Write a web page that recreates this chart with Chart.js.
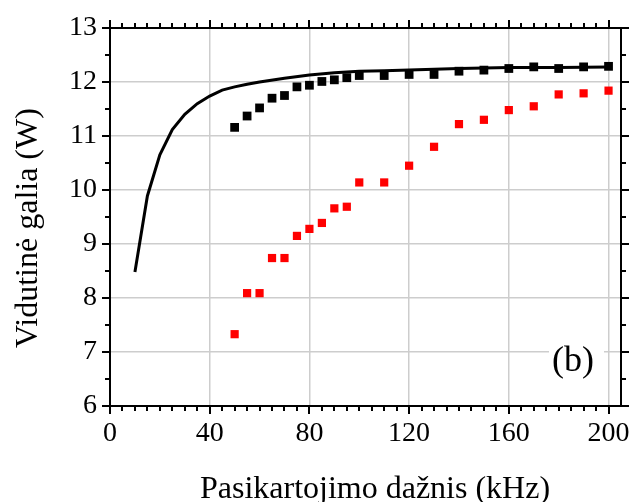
<!DOCTYPE html>
<html>
<head>
<meta charset="utf-8">
<script src="https://cdn.jsdelivr.net/npm/chart.js@4"></script>
<style>
    html, body { margin: 0; padding: 0; background: #fff; }
</style>
</head>
<body>
<canvas id="myChart" width="631" height="502"></canvas>
<script>
// model curve (kHz -> W)
const curveFreq = [10, 15, 20, 25, 30, 35, 40, 45, 50, 55, 60, 70, 80, 90, 100, 110, 120, 140, 160, 180, 200]
const curvePower = [8.48, 9.89, 10.65, 11.12, 11.40, 11.60, 11.74, 11.85, 11.91, 11.96, 12.00, 12.07, 12.13, 12.17, 12.20, 12.21, 12.22, 12.25, 12.27, 12.27, 12.28]

// measured points
const freq = [50, 55, 60, 65, 70, 75, 80, 85, 90, 95, 100, 110, 120, 130, 140, 150, 160, 170, 180, 190, 200]
const blackPower = [11.16, 11.37, 11.52, 11.70, 11.75, 11.91, 11.94, 12.01, 12.04, 12.08, 12.12, 12.12, 12.14, 12.14, 12.20, 12.22, 12.25, 12.28, 12.25, 12.28, 12.29]
const redPower = [7.33, 8.09, 8.09, 8.74, 8.74, 9.15, 9.28, 9.39, 9.66, 9.69, 10.14, 10.14, 10.45, 10.80, 11.22, 11.30, 11.48, 11.55, 11.77, 11.79, 11.84]

const xTitle = 'Pasikartojimo dažnis (kHz)'
const yTitle = 'Vidutinė galia (W)'
const tag = '(b)'

const xMin = 0, xMax = 205
const yMin = 6, yMax = 13
const serif = 'Liberation Serif'

function toXY(xs, ys) {
    return xs.map((x, i) => ({ x: x, y: ys[i] }))
}

function noPad(s) {
    s.paddingLeft = 0; s.paddingRight = 0
    s.paddingTop = 0; s.paddingBottom = 0
}

// tick marks on all four sides, axis titles and the "(b)" tag
const frameTicks = {
    id: 'frameTicks',
    afterDraw (chart) {
        const ctx = chart.ctx
        const a = chart.chartArea
        const xs = chart.scales.x
        const ys = chart.scales.y
        ctx.save()
        ctx.strokeStyle = '#000'
        ctx.lineWidth = 2
        ctx.beginPath()
        for (let v = xMin; v <= 200; v += 5) {
            const px = Math.round(xs.getPixelForValue(v))
            const len = v % 40 === 0 ? 8 : 5
            ctx.moveTo(px, a.bottom); ctx.lineTo(px, a.bottom + len)
            ctx.moveTo(px, a.top); ctx.lineTo(px, a.top - len)
        }
        for (let v = yMin; v <= yMax; v += 0.5) {
            const py = Math.round(ys.getPixelForValue(v))
            const len = v % 1 === 0 ? 8 : 5
            ctx.moveTo(a.left, py); ctx.lineTo(a.left - len, py)
            ctx.moveTo(a.right, py); ctx.lineTo(a.right + len, py)
        }
        ctx.stroke()

        ctx.fillStyle = '#000'
        ctx.textAlign = 'center'
        ctx.textBaseline = 'alphabetic'
        ctx.font = '32px "' + serif + '"'
        ctx.fillText(xTitle, 375, 498)

        ctx.save()
        ctx.translate(37, 228)
        ctx.rotate(-Math.PI / 2)
        ctx.fillText(yTitle, 0, 0)
        ctx.restore()

        ctx.fillStyle = '#fff'
        ctx.fillRect(549, 341, 55, 44)
        ctx.fillStyle = '#000'
        ctx.font = '36px "' + serif + '"'
        ctx.textBaseline = 'middle'
        ctx.fillText(tag, 573, 362)
        ctx.restore()
    }
}

const ctx = document.getElementById('myChart')
const myChart = new Chart(ctx, {
    type: 'scatter',
    data: {
        datasets: [
            {
                label: 'model',
                type: 'line',
                data: toXY(curveFreq, curvePower),
                borderColor: '#000',
                borderWidth: 3,
                pointRadius: 0,
                fill: false,
                tension: 0,
                order: 3
            },
            {
                label: 'black',
                data: toXY(freq, blackPower),
                pointStyle: 'rect',
                pointRadius: 6.2,
                borderWidth: 0,
                backgroundColor: '#000',
                order: 1
            },
            {
                label: 'red',
                data: toXY(freq, redPower),
                pointStyle: 'rect',
                pointRadius: 5.8,
                borderWidth: 0,
                backgroundColor: '#ff0000',
                order: 2
            }
        ]
    },
    options: {
        responsive: false,
        animation: false,
        layout: { padding: 0 },
        plugins: {
            legend: { display: false },
            tooltip: { enabled: false }
        },
        scales: {
            x: {
                type: 'linear',
                position: 'bottom',
                min: xMin,
                max: xMax,
                ticks: {
                    stepSize: 40,
                    includeBounds: false,
                    color: '#000',
                    padding: 11,
                    maxRotation: 0,
                    font: { family: serif, size: 28 }
                },
                grid: { color: '#cdcdcd', lineWidth: 1.5, drawTicks: false },
                border: { display: true, color: '#000', width: 2 },
                afterFit (s) { s.height = 96; noPad(s) }
            },
            x2: {
                type: 'linear',
                position: 'top',
                min: xMin,
                max: xMax,
                ticks: { display: false },
                grid: { display: false },
                border: { display: true, color: '#000', width: 2 },
                afterFit (s) { s.height = 28; noPad(s) }
            },
            y: {
                type: 'linear',
                position: 'left',
                min: yMin,
                max: yMax,
                ticks: {
                    stepSize: 1,
                    color: '#000',
                    padding: 13,
                    font: { family: serif, size: 28 }
                },
                grid: { color: '#cdcdcd', lineWidth: 1.5, drawTicks: false },
                border: { display: true, color: '#000', width: 2 },
                afterFit (s) { s.width = 110; noPad(s) }
            },
            y2: {
                type: 'linear',
                position: 'right',
                min: yMin,
                max: yMax,
                ticks: { display: false },
                grid: { display: false },
                border: { display: true, color: '#000', width: 2 },
                afterFit (s) { s.width = 10; noPad(s) }
            }
        }
    },
    plugins: [frameTicks]
})
</script>
</body>
</html>
